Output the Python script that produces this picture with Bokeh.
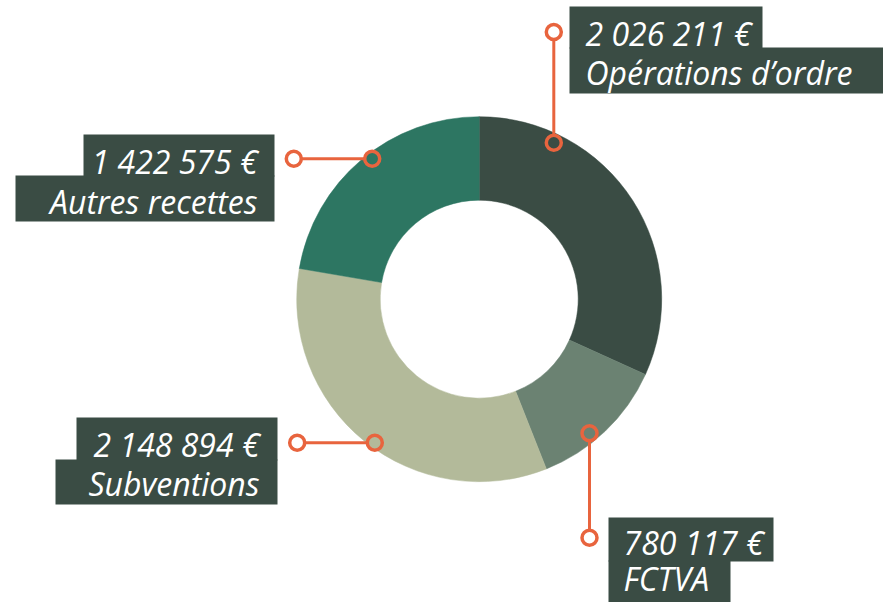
import math
from bokeh.plotting import figure
from bokeh.models import Range1d, ColumnDataSource
from bokeh.core.properties import value
from bokeh.embed import file_html
from bokeh.resources import INLINE

# ---- data ----
categories = ["Opérations d’ordre", "FCTVA", "Subventions", "Autres recettes"]
amounts = [2026211, 780117, 2148894, 1422575]
amount_labels = ["2 026 211 €", "780 117 €", "2 148 894 €", "1 422 575 €"]
colors = ["#3a4c44", "#6b8272", "#b3ba9a", "#2d7662"]

BOX = "#3a4c44"
ORANGE = "#e8643e"
FONT = value("Open Sans")
FS = "32px"
DY = 11  # baseline correction

W, H = 883, 602
p = figure(width=W, height=H, x_range=Range1d(0, W), y_range=Range1d(-H, 0),
           min_border=0, outline_line_color=None, toolbar_location=None,
           output_backend="svg", background_fill_color="white")
p.axis.visible = False
p.grid.visible = False

# donut
cx, cy = 478.7, -298.7
total = float(sum(amounts))
starts, ends = [], []
cum = 0.0
for a in amounts:
    starts.append(math.pi / 2 - 2 * math.pi * cum / total)
    cum += a
    ends.append(math.pi / 2 - 2 * math.pi * cum / total)
src = ColumnDataSource(dict(start=starts, end=ends, color=colors))
p.annular_wedge(x=cx, y=cy, inner_radius=99, outer_radius=182.5,
                start_angle="start", end_angle="end", direction="clock",
                fill_color="color", line_color="color", line_width=0.5, source=src)

layouts = [
    dict(b1=(569, 762, 6, 48), b2=(569, 890, 47, 93), tx=585, align="left",
         y1=44, y2=83, p_out=(553.3, 31.5), p_in=(553.3, 142.3)),
    dict(b1=(608, 773, 517, 561), b2=(608, 730, 560, 620), tx=623, align="left",
         y1=553, y2=589, p_out=(589, 537.3), p_in=(589, 432.7)),
    dict(b1=(76, 277, 417, 460), b2=(55, 277, 459, 504), tx=259, align="right",
         y1=455, y2=494, p_out=(296.7, 442.3), p_in=(374.3, 442.3)),
    dict(b1=(83, 274, 134, 176), b2=(15, 274, 175, 221), tx=257, align="right",
         y1=172, y2=212, p_out=(293.3, 158.3), p_in=(371.7, 158.3)),
]

for i, L in enumerate(layouts):
    for bx in (L["b1"], L["b2"]):
        l, r, t, b = bx
        p.quad(left=l, right=r, top=-t, bottom=-b, fill_color=BOX, line_color=None)
    p.text(x=[L["tx"]], y=[-(L["y1"] - DY)], text=[amount_labels[i]], text_font=FONT,
           text_font_style="italic", text_font_size=FS, text_color="white",
           text_align=L["align"], text_baseline="alphabetic")
    p.text(x=[L["tx"]], y=[-(L["y2"] - DY)], text=[categories[i]], text_font=FONT,
           text_font_style="italic", text_font_size=FS, text_color="white",
           text_align=L["align"], text_baseline="alphabetic")
    (x0, y0), (x1, y1) = L["p_out"], L["p_in"]
    p.segment(x0=x0, y0=-y0, x1=x1, y1=-y1, line_color=ORANGE, line_width=3)
    p.scatter(x=[x0], y=[-y0], size=15, marker="circle", fill_color="white",
              line_color=ORANGE, line_width=3.5)
    p.scatter(x=[x1], y=[-y1], size=15, marker="circle", fill_color=colors[i],
              line_color=ORANGE, line_width=3.5)

open("out.html", "w").write(file_html(p, INLINE))
